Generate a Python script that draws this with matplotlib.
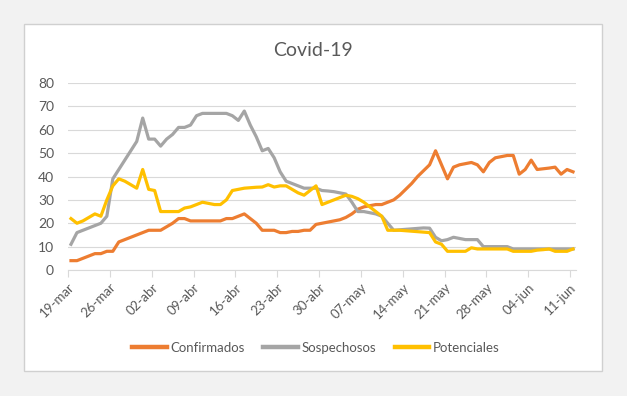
import matplotlib
matplotlib.use("Agg")
import matplotlib.pyplot as plt
from matplotlib.patches import Rectangle

# Datos diarios del 19-mar al 11-jun
n_days = 85
tick_labels = ["19-mar", "26-mar", "02-abr", "09-abr", "16-abr", "23-abr", "30-abr",
               "07-may", "14-may", "21-may", "28-may", "04-jun", "11-jun"]

confirmados = [4, 4, 5, 6, 7, 7, 8, 8, 12, 13, 14, 15, 16, 17, 17, 17, 18.5, 20, 22, 22,
               21, 21, 21, 21, 21, 21, 22, 22, 23, 24, 22, 20, 17, 17, 17, 16, 16, 16.5, 16.5, 17,
               17, 19.5, 20, 20.5, 21, 21.5, 22.5, 24, 26, 27, 27.5, 28, 28, 29, 30, 32, 34.5, 37, 40, 42.5,
               45, 51, 45, 39, 44, 45, 45.5, 46, 45, 42, 46, 48, 48.5, 49, 49, 41, 43, 47, 43, 43.3,
               43.6, 44, 41, 43, 42]
sospechosos = [11, 16, 17, 18, 19, 20, 23, 39, 43, 47, 51, 55, 65, 56, 56, 53, 56, 58, 61, 61,
               62, 66, 67, 67, 67, 67, 67, 66, 64, 68, 62, 57, 51, 52, 48, 42, 38, 37, 36, 35,
               35, 35, 34, 33.8, 33.5, 33, 32.5, 29, 25, 25, 24.5, 24, 23, 20, 17, 17.2, 17.4, 17.6, 17.8, 18,
               17.9, 14, 12.5, 13, 14, 13.5, 13, 13, 13, 10, 10, 10, 10, 10, 9, 9, 9, 9, 9, 9,
               9, 9, 9, 9, 9]
potenciales = [22, 20, 21, 22.5, 24, 23, 30, 36, 39, 38, 36.5, 35, 43, 34.5, 34, 25, 25, 25, 25, 26.5,
               27, 28, 29, 28.5, 28, 28, 30, 34, 34.5, 35, 35.2, 35.4, 35.5, 36.5, 35.5, 36, 36, 34.5, 33, 32,
               34, 36, 28, 29, 30, 31, 32, 31.5, 30.5, 29, 27, 25, 23, 17, 17, 17, 16.8, 16.6, 16.4, 16.2,
               16, 12, 11, 8, 8, 8, 8, 9.5, 9, 9, 9, 9, 9, 9, 8, 8, 8, 8, 8.5, 8.7,
               9, 8, 8, 8, 9]

plt.rcParams["font.family"] = ["Lato", "DejaVu Sans"]

fig = plt.figure(figsize=(6.27, 3.96), dpi=100, facecolor="#F2F2F2")
# recuadro blanco del gráfico
fig.patches.append(Rectangle((24 / 627, 1 - 371 / 396), (602 - 24) / 627, (371 - 24) / 396,
                             transform=fig.transFigure, facecolor="white",
                             edgecolor="#D0D0D0", linewidth=1.0, zorder=-10))
ax = fig.add_axes([68 / 627, 1 - 270 / 396, (576 - 68) / 627, (270 - 83) / 396])
ax.set_zorder(1)
ax.set_facecolor("none")

days = list(range(n_days))
lw = 2.3
ax.plot(days, confirmados, color="#ED7D31", linewidth=lw, label="Confirmados", zorder=3)
ax.plot(days, sospechosos, color="#A5A5A5", linewidth=lw, label="Sospechosos", zorder=3)
ax.plot(days, potenciales, color="#FFC000", linewidth=lw, label="Potenciales", zorder=3)

ax.set_xlim(-0.5, n_days - 0.5)
ax.set_ylim(0, 80)
ax.set_yticks(range(0, 81, 10))
ax.grid(axis="y", color="#D9D9D9", linewidth=0.8)
ax.set_axisbelow(True)

ax.set_xticks([d - 0.5 for d in range(0, n_days, 7)])
ax.set_xticklabels(tick_labels, rotation=45, ha="right", rotation_mode="anchor")

for s in ["top", "right", "left"]:
    ax.spines[s].set_visible(False)
ax.spines["bottom"].set_color("#D9D9D9")
ax.tick_params(axis="x", colors="#D9D9D9", length=5, labelcolor="#595959", labelsize=9.5, pad=3)
ax.tick_params(axis="y", length=0, labelcolor="#595959", labelsize=10, pad=10)

fig.text(313 / 627, 1 - 50 / 396, "Covid-19", ha="center", va="center",
         fontsize=14, color="#595959")

leg = fig.legend(loc="center", bbox_to_anchor=(316 / 627, 1 - 348 / 396), ncol=3, frameon=False,
                 fontsize=9.5, labelcolor="#595959", handlelength=2.6, handletextpad=0.3,
                 columnspacing=1.4)
for h in leg.legend_handles:
    h.set_linewidth(3.2)

fig.savefig("out.png", dpi=100, facecolor=fig.get_facecolor())
